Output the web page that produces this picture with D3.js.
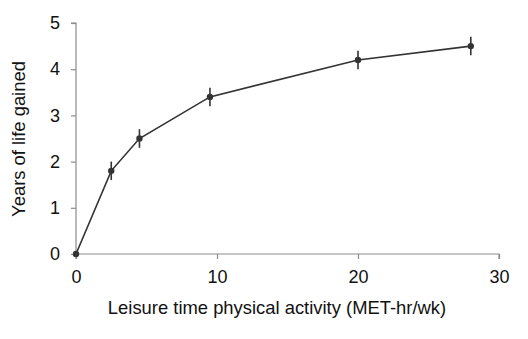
<!DOCTYPE html>
<html><head><meta charset="utf-8">
<script src="https://cdn.jsdelivr.net/npm/d3@7"></script>
<style>body{margin:0;background:#fff}svg{display:block}</style>
</head><body>
<svg id="c" width="528" height="339"></svg>
<script>
const xValues = [0, 2.5, 4.5, 9.5, 20, 28];
const yValues = [0, 1.8, 2.5, 3.4, 4.2, 4.5];
const errValues = [0, 0.2, 0.2, 0.2, 0.2, 0.2];
const xTicks = [0, 10, 20, 30];
const yTicks = [0, 1, 2, 3, 4, 5];
const xTitle = "Leisure time physical activity (MET-hr/wk)";
const yTitle = "Years of life gained";

const svg = d3.select("#c");
const x = d3.scaleLinear().domain([0, 30]).range([76, 499]);
const y = d3.scaleLinear().domain([0, 5]).range([254, 23]);
const font = "Liberation Sans, Arial, sans-serif";
const axisColor = "#8c8c8c";

const gx = svg.append("g").attr("transform", "translate(0,254)")
  .call(d3.axisBottom(x).tickValues(xTicks).tickSize(5).tickPadding(11).tickFormat(d3.format("d")));
const gy = svg.append("g").attr("transform", "translate(76,0)")
  .call(d3.axisLeft(y).tickValues(yTicks).tickSize(5).tickPadding(11).tickFormat(d3.format("d")));
[gx, gy].forEach(g => {
  g.select(".domain").attr("stroke", axisColor).attr("stroke-width", 1.2);
  g.selectAll(".tick line").attr("stroke", axisColor).attr("stroke-width", 1.2);
  g.selectAll(".tick text").attr("fill", "#111").style("font-family", font).style("font-size", "18px");
});
gy.select(".domain").attr("d", `M-5,${y(5)}H0V${y(0)}`);
gx.select(".domain").attr("d", `M${x(0)},5V0H${x(30)}V5`);

const pts = xValues.map((v, i) => ({x: v, y: yValues[i], e: errValues[i]}));
svg.append("path").datum(pts)
  .attr("fill", "none").attr("stroke", "#333").attr("stroke-width", 1.6)
  .attr("d", d3.line().x(d => x(d.x)).y(d => y(d.y)));
svg.selectAll(".err").data(pts.filter(d => d.e > 0)).join("line")
  .attr("x1", d => x(d.x)).attr("x2", d => x(d.x))
  .attr("y1", d => y(d.y - d.e)).attr("y2", d => y(d.y + d.e))
  .attr("stroke", "#333").attr("stroke-width", 1.6);
svg.selectAll(".pt").data(pts).join("circle")
  .attr("cx", d => x(d.x)).attr("cy", d => y(d.y)).attr("r", 3.2).attr("fill", "#333");

svg.append("text").attr("x", 277).attr("y", 314).attr("text-anchor", "middle")
  .style("font-family", font).style("font-size", "18.4px").attr("fill", "#111").text(xTitle);
svg.append("text").attr("transform", "translate(25,139) rotate(-90)").attr("text-anchor", "middle")
  .style("font-family", font).style("font-size", "18.4px").attr("fill", "#111").text(yTitle);
</script>
</body></html>
